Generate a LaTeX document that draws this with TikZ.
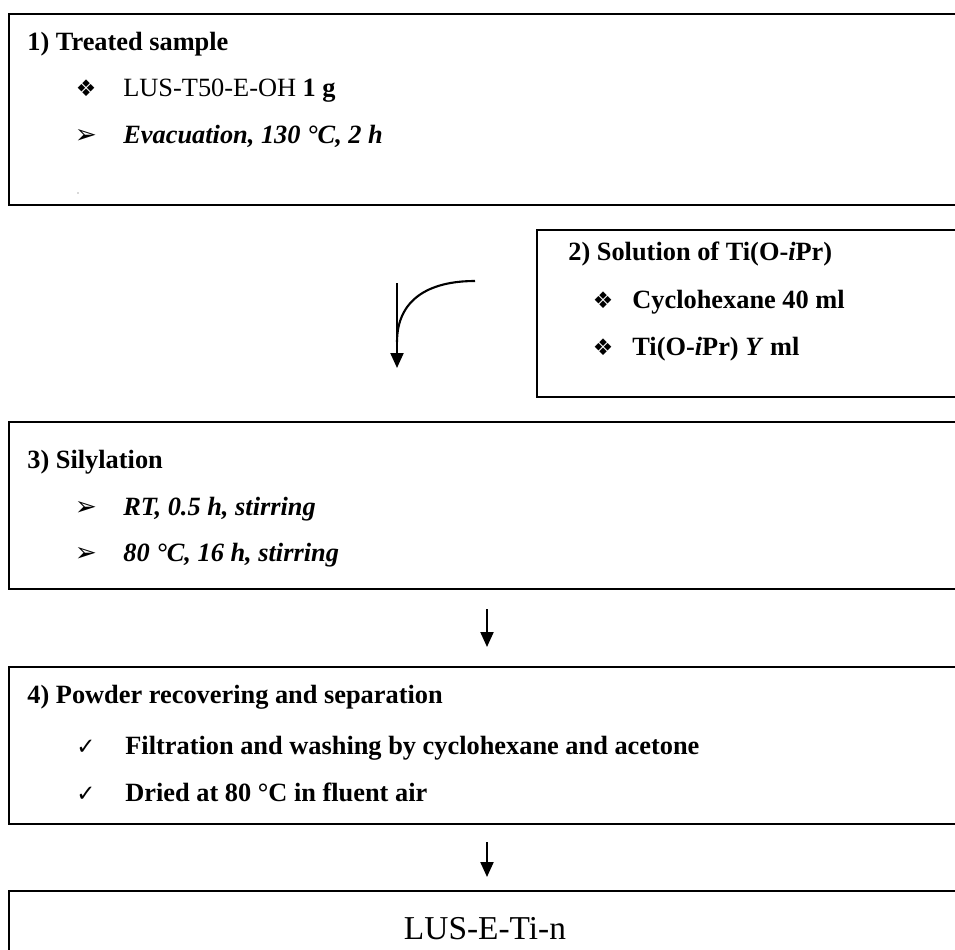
\documentclass[tikz,border=0pt]{standalone}
\usepackage{fontspec}
\setmainfont{Liberation Serif}
\newfontfamily\dingfont{DejaVu Sans}
\usetikzlibrary{positioning, arrows.meta, calc}
\newcommand{\diam}{{\dingfont\fontsize{13}{14}\selectfont ❖}}
\newcommand{\arrw}{{\dingfont\fontsize{15}{16}\selectfont ➢}}
\newcommand{\tick}{{\dingfont\fontsize{13}{14}\selectfont ✓}}

\begin{document}
\begin{tikzpicture}[x=0.2mm, y=-0.2mm,
    box/.style={draw, line width=1.4pt, anchor=north west, minimum width=19.6cm, inner sep=0pt},
    hdr/.style={anchor=base west, inner sep=0pt, font=\fontsize{15}{18}\selectfont\bfseries},
    txt/.style={anchor=base west, inner sep=0pt, font=\fontsize{15}{18}\selectfont},
    bul/.style={anchor=base, inner sep=0pt},
    flow/.style={line width=1.2pt, -{Triangle[length=3mm, width=2.6mm]}}]
  \useasboundingbox (0,0) rectangle (955,949);
  \clip (0,0) rectangle (955,949);
  % 1) treated sample
  \node[box, minimum height=3.82cm] (treat) at (8,13) {};
  \node[hdr] (treatH) at (27,50) {1) Treated sample};
  \node[bul] (treatB1) at (86,96) {\diam};
  \node[txt] (treatA) at (123,96) {LUS-T50-E-OH \textbf{1 g}};
  \node[bul] (treatB2) at (86,143) {\arrw};
  \node[txt, font=\fontsize{15}{18}\selectfont\bfseries\itshape] (treatC) at (123,143) {Evacuation, 130~°C, 2 h};
  \fill[gray!60] (78,193) circle (0.5pt);
  % 2) solution
  \node[box, minimum height=3.34cm] (soln) at (536,229) {};
  \node[hdr] (solnH) at (568,260) {2) Solution of Ti(O-\textit{i}Pr)};
  \node[bul] (solnB1) at (603,308) {\diam};
  \node[hdr] (solnA) at (632,308) {Cyclohexane 40 ml};
  \node[bul] (solnB2) at (603,355) {\diam};
  \node[hdr] (solnC) at (632,355) {Ti(O-\textit{i}Pr) \textit{Y} ml};
  % 3) silylation
  \node[box, minimum height=3.34cm] (silyl) at (8,421) {};
  \node[hdr] (silylH) at (27,468) {3) Silylation};
  \node[bul] (silylB1) at (86,515) {\arrw};
  \node[hdr, font=\fontsize{15}{18}\selectfont\bfseries\itshape] (silylA) at (123,515) {RT, 0.5 h, stirring};
  \node[bul] (silylB2) at (86,561) {\arrw};
  \node[hdr, font=\fontsize{15}{18}\selectfont\bfseries\itshape] (silylC) at (123,561) {80~°C, 16 h, stirring};
  % 4) recovering
  \node[box, minimum height=3.14cm] (recov) at (8,666) {};
  \node[hdr] (recovH) at (27,703) {4) Powder recovering and separation};
  \node[bul] (recovB1) at (86,754) {\tick};
  \node[hdr] (recovA) at (125,754) {Filtration and washing by cyclohexane and acetone};
  \node[bul] (recovB2) at (86,801) {\tick};
  \node[hdr] (recovC) at (125,801) {Dried at 80~°C in fluent air};
  % product
  \node[box, minimum height=3cm] (prod) at (8,890) {};
  \node[anchor=base, inner sep=0pt, font=\fontsize{19}{22}\selectfont] (prodT) at (485,939) {LUS-E-Ti-n};
  % arrows
  \coordinate (joinx) at (397,0);
  \coordinate (mainx) at (487,0);
  \coordinate (feed) at (475,281);
  \coordinate (merge) at (397,342);
  \draw[flow, shorten <=1.54cm, shorten >=1.06cm] (treat.south -| joinx) -- (silyl.north -| joinx);
  \draw[line width=1.2pt] (feed) .. controls (428,281) and (397,300) .. (merge);
  \draw[flow, shorten <=0.38cm, shorten >=0.38cm] (silyl.south -| mainx) -- (recov.north -| mainx);
  \draw[flow, shorten <=0.34cm, shorten >=0.26cm] (recov.south -| mainx) -- (prod.north -| mainx);
\end{tikzpicture}
\end{document}
